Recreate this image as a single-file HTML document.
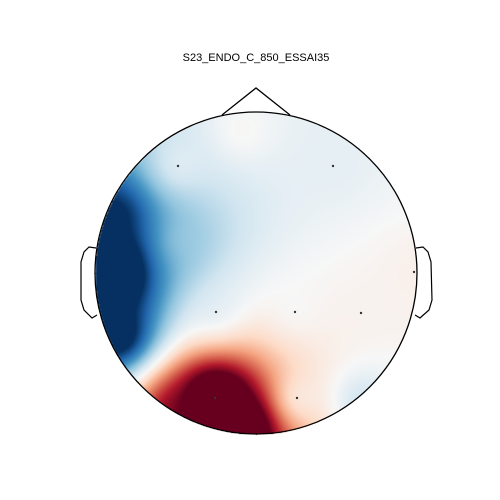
<!DOCTYPE html>
<html><head><meta charset="utf-8"><style>
body{margin:0;background:#fff;width:500px;height:500px;overflow:hidden;font-family:"Liberation Sans",sans-serif}
#wrap{position:relative;width:500px;height:500px}
#title{position:absolute;top:52px;left:0;width:512px;text-align:center;font-size:11px;color:#000}
canvas,svg{position:absolute;left:0;top:0}
</style></head><body>
<div id="wrap">
<div id="title">S23_ENDO_C_850_ESSAI35</div>
<canvas id="cv" width="500" height="500"></canvas>
<svg id="sv" width="500" height="500">
<circle cx="256" cy="273" r="161" fill="none" stroke="#000" stroke-width="1.3"/>
<polyline points="222,115 256,88 290,115" fill="none" stroke="#000" stroke-width="1.3"/>
<polyline points="96,248 89,247 84,252 81,262 81,300 84,310 92,318 97,315" fill="none" stroke="#000" stroke-width="1.2"/>
<polyline points="416,248 423,247 428,252 431,262 432,300 429,310 420,318 415,315" fill="none" stroke="#000" stroke-width="1.2"/>
</svg>
</div>
<script>
const sensorX=[178,333,216,295,361,297,215,108,414,240,360,115,118,240,175,180];
const sensorY=[166,166,312,312,313,398,398,272,272,130,400,215,335,428,410,240];
const sensorValues=[-0.05,-0.1,-0.15,-0.03,0.04,-0.05,2.1,-2.3,0.06,0.06,-0.3,-1.2,-1.5,2.0,1.0,-0.35];
const vmin=-1,vmax=1;
const cx=256,cy=273,R=161;
const stops=[[5,48,97],[33,102,172],[67,147,195],[146,197,222],[209,229,240],[247,247,247],[253,219,199],[244,165,130],[214,96,77],[178,24,43],[103,0,31]];
function cmap(t){t=Math.max(0,Math.min(1,t))*10;const i=Math.min(9,Math.floor(t)),f=t-i;const a=stops[i],b=stops[i+1];return [a[0]+(b[0]-a[0])*f,a[1]+(b[1]-a[1])*f,a[2]+(b[2]-a[2])*f];}
const cv=document.getElementById('cv'),ctx=cv.getContext('2d');
const img=ctx.createImageData(500,500);
for(let y=cy-R;y<=cy+R;y++)for(let x=cx-R;x<=cx+R;x++){
 const dx=x-cx,dy=y-cy;if(dx*dx+dy*dy>R*R)continue;
 let ws=0,vs=0;
 for(let k=0;k<sensorX.length;k++){const d2=(x-sensorX[k])**2+(y-sensorY[k])**2+400;const w=1/Math.pow(d2,1.0);ws+=w;vs+=w*sensorValues[k];}
 const v=vs/ws;const c=cmap((v-vmin)/(vmax-vmin));const o=(y*500+x)*4;
 img.data[o]=c[0];img.data[o+1]=c[1];img.data[o+2]=c[2];img.data[o+3]=255;}
ctx.putImageData(img,0,0);
const sv=document.getElementById('sv');
for(let k=0;k<9;k++){
 if(k===7)continue;
 const c=document.createElementNS('http://www.w3.org/2000/svg','circle');
 c.setAttribute('cx',sensorX[k]);c.setAttribute('cy',sensorY[k]);c.setAttribute('r',1.2);c.setAttribute('fill','#333');
 
 
 sv.appendChild(c);}
</script>
</body></html>
